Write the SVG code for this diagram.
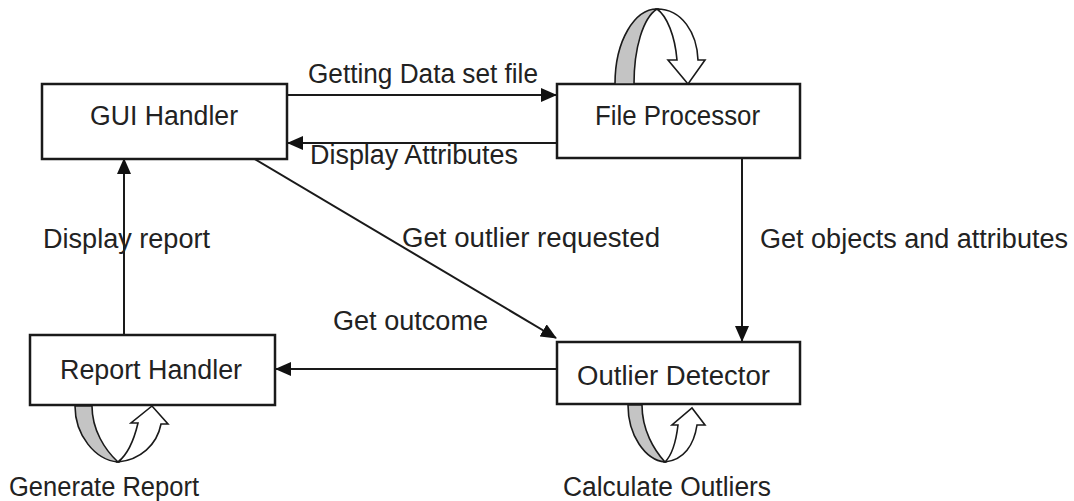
<svg xmlns="http://www.w3.org/2000/svg" width="1074" height="501" viewBox="0 0 1074 501">
<style>
.box{fill:#fff;stroke:#1a1a1a;stroke-width:2.5}
.lbl{font-family:"Liberation Sans",Arial,sans-serif;font-size:27px;fill:#222}
.conn{stroke:#1a1a1a;stroke-width:2;fill:none}
.back{fill:#c4c4c4;stroke:#1a1a1a;stroke-width:1.6}
.front{fill:#fff;stroke:#1a1a1a;stroke-width:1.6}
</style>
<defs>
<marker id="ah" markerUnits="userSpaceOnUse" markerWidth="16" markerHeight="14" refX="15" refY="7" orient="auto">
<path d="M0,0 L16,7 L0,14 Z" fill="#111"/>
</marker>
</defs>
<rect width="1074" height="501" fill="#fff"/>
<g id="connectors">
<path class="conn" d="M287,95 L556,95" marker-end="url(#ah)"/>
<path class="conn" d="M557,143 L288,143" marker-end="url(#ah)"/>
<path class="conn" d="M253,158 L556,338" marker-end="url(#ah)"/>
<path class="conn" d="M742,158 L742,341" marker-end="url(#ah)"/>
<path class="conn" d="M557,369 L276,369" marker-end="url(#ah)"/>
<path class="conn" d="M124,335 L124,159" marker-end="url(#ah)"/>
</g>
<g id="gui-handler">
<rect class="box" x="42" y="84" width="245" height="75"/>
<text class="lbl" x="90" y="125" textLength="148" lengthAdjust="spacingAndGlyphs">GUI Handler</text>
</g>
<g id="file-processor">
<rect class="box" x="557" y="84" width="243" height="74"/>
<text class="lbl" x="595" y="125" textLength="165" lengthAdjust="spacingAndGlyphs">File Processor</text>
<path class="back" d="M615,84 C615,40 635,9 657,9 C643,18 634,48 634,84 Z"/>
<path class="front" d="M657,9 C682,9 697,33 698,60 L705,60 L688,84 L668,60 L677,60 C675,36 667,16 657,9 Z"/>
</g>
<g id="report-handler">
<rect class="box" x="30" y="335" width="245" height="70"/>
<text class="lbl" x="60" y="379" textLength="182" lengthAdjust="spacingAndGlyphs">Report Handler</text>
<path class="back" d="M75,406 C75,435 95,460 118,462 C105,450 92,430 92,406 Z"/>
<path class="front" d="M118,462 C140,460 157,445 161,424 L168,424 L152,406 L131,423 L138,423 C134,440 127,455 118,462 Z"/>
</g>
<g id="outlier-detector">
<rect class="box" x="557" y="342" width="243" height="62"/>
<text class="lbl" x="577" y="385" textLength="193" lengthAdjust="spacingAndGlyphs">Outlier Detector</text>
<path class="back" d="M628,405 C628,435 645,460 665,462 C654,450 642,430 642,405 Z"/>
<path class="front" d="M665,462 C684,460 694,445 697,425 L705,425 L692,408 L672,425 L678,425 C676,442 672,455 665,462 Z"/>
</g>
<g id="labels">
<text class="lbl" x="308" y="83" textLength="230" lengthAdjust="spacingAndGlyphs">Getting Data set file</text>
<text class="lbl" x="310" y="164" textLength="208" lengthAdjust="spacingAndGlyphs">Display Attributes</text>
<text class="lbl" x="402" y="247" textLength="258" lengthAdjust="spacingAndGlyphs">Get outlier requested</text>
<text class="lbl" x="760" y="248" textLength="308" lengthAdjust="spacingAndGlyphs">Get objects and attributes</text>
<text class="lbl" x="43" y="248" textLength="167" lengthAdjust="spacingAndGlyphs">Display report</text>
<text class="lbl" x="333" y="330" textLength="155" lengthAdjust="spacingAndGlyphs">Get outcome</text>
<text class="lbl" x="9" y="496" textLength="190" lengthAdjust="spacingAndGlyphs">Generate Report</text>
<text class="lbl" x="563" y="496" textLength="208" lengthAdjust="spacingAndGlyphs">Calculate Outliers</text>
</g>
</svg>
